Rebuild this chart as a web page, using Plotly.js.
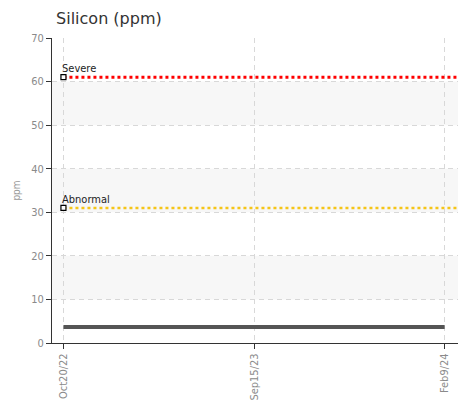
<!DOCTYPE html>
<html><head><meta charset="utf-8">
<script src="https://cdn.plot.ly/plotly-3.0.1.min.js"></script>
<style>html,body{margin:0;padding:0;background:#fff}</style>
</head><body>
<div id="chart" style="width:469px;height:408px"></div>
<script>
const categories = ["Oct20/22", "Sep15/23", "Feb9/24"];
const siliconValues = [3.7, 3.7, 3.7];
const severeLevel = 61;
const abnormalLevel = 31;
const yTicks = [0, 10, 20, 30, 40, 50, 60, 70];
const bands = [[10, 20], [30, 40], [50, 60]];
const limitLabels = ["Severe", "Abnormal"];

const idx = categories.map((c, i) => i);
const xMin = -0.06, xMax = 2.07;
const condensed = "DejaVu Sans Condensed, DejaVu Sans";
const tickFont = {family: condensed, size: 11, color: "#8a8a8a"};

const traces = [
  {x: idx, y: siliconValues, mode: "lines", line: {color: "#555555", width: 4}, hoverinfo: "skip"},
  {x: [0, xMax], y: [severeLevel, severeLevel], mode: "lines", line: {color: "#ff0000", width: 3, dash: "dot"}, hoverinfo: "skip"},
  {x: [0, xMax], y: [abnormalLevel, abnormalLevel], mode: "lines", line: {color: "#f5c518", width: 2.5, dash: "dot"}, hoverinfo: "skip"},
  {x: [0, 0], y: [severeLevel, abnormalLevel], mode: "markers",
   marker: {symbol: "square", size: 5, color: "#fff", line: {width: 1.2, color: "#000"}}, hoverinfo: "skip"}
];

const annotations = [severeLevel, abnormalLevel].map((v, i) => ({
  x: 0, y: v, xref: "x", yref: "y", text: limitLabels[i], showarrow: false,
  xanchor: "left", yanchor: "bottom", xshift: -3, yshift: 0,
  font: {family: condensed, size: 11, color: "#222"}
}));

const shapes = bands.map(b => ({type: "rect", xref: "paper", yref: "y", x0: 0, x1: 1, y0: b[0], y1: b[1],
  fillcolor: "#f7f7f7", line: {width: 0}, layer: "below"}));

const layout = {
  width: 469, height: 408,
  margin: {l: 52, r: 11, t: 38, b: 65},
  showlegend: false,
  paper_bgcolor: "#fff", plot_bgcolor: "#fff",
  title: {text: "Silicon (ppm)", x: 0.01, xref: "paper", xanchor: "left", y: 0.968, yanchor: "top",
    font: {family: "DejaVu Sans", size: 16, color: "#333"}},
  shapes: shapes,
  annotations: annotations,
  xaxis: {range: [xMin, xMax], tickvals: idx, ticktext: categories, tickangle: -90,
    tickfont: tickFont, showgrid: true, gridcolor: "#d8d8d8", griddash: "5px,4px", gridwidth: 1,
    zeroline: false, showline: true, linecolor: "#333", linewidth: 1,
    ticks: "outside", ticklen: 5, tickcolor: "#333"},
  yaxis: {range: [0, 70], tickvals: yTicks, tickfont: tickFont,
    title: {text: "ppm", font: {family: condensed, size: 10, color: "#999"}, standoff: 8},
    showgrid: true, gridcolor: "#d8d8d8", griddash: "5px,4px", gridwidth: 1,
    zeroline: false, showline: true, linecolor: "#333", linewidth: 1,
    ticks: "outside", ticklen: 5, tickcolor: "#333"}
};
Plotly.newPlot("chart", traces, layout, {displayModeBar: false, staticPlot: true});
</script>
</body></html>
